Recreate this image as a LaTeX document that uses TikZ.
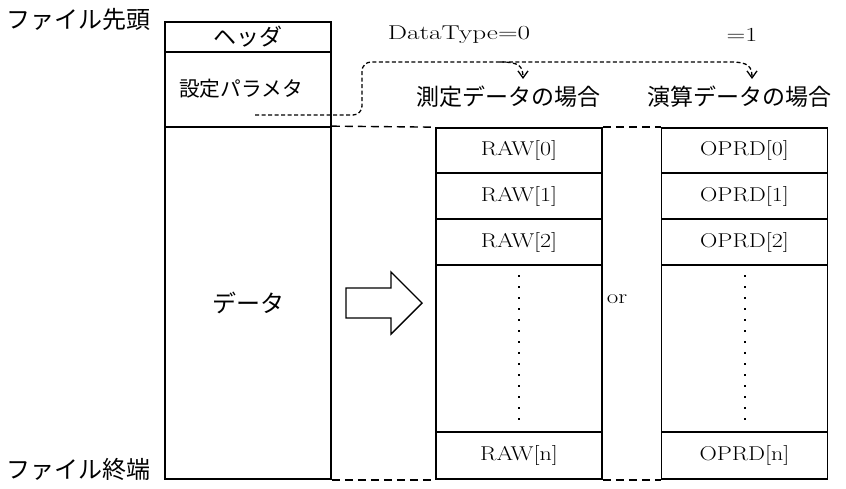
\documentclass[tikz,border=0pt]{standalone}
\usepackage{fontspec}
\usepackage{graphicx}
\newfontfamily\jp{Noto Sans CJK JP}
\usetikzlibrary{arrows.meta,backgrounds}
\newcommand{\widetxt}[2]{\scalebox{#1}[1]{#2}}
\begin{document}
\begin{tikzpicture}[x=1pt,y=-1pt,
  cell/.style={draw,line width=1.7pt,minimum width=166pt,inner sep=0pt,font=\fontsize{20}{24}\selectfont},
  jpt/.style={font=\jp\fontsize{20}{24}\selectfont,inner sep=0pt},
  lat/.style={font=\fontsize{20}{24}\selectfont,inner sep=0pt},
  bound/.style={dash pattern=on 8pt off 5pt,line width=1.4pt},
  conn/.style={dash pattern=on 4pt off 2.5pt,line width=1.3pt},
  tipv/.style={-{Straight Barb[length=7pt,width=10pt,line width=1.3pt]}}]
\useasboundingbox (0,0) rectangle (846,488);
% left file box
\node[cell,minimum height=30pt,font=\jp\fontsize{23}{26}\selectfont] (hdr) at (248,37) {ヘッダ};
\node[cell,minimum height=75pt] (param) at (248,89.5) {};
\node[jpt,font=\jp\fontsize{20.7}{24}\selectfont] (paramt) at (241,89) {設定パラメタ};
\node[cell,minimum height=352pt,font=\jp\fontsize{24}{28}\selectfont] (data) at (248,303) {データ};
\node[jpt,font=\jp\fontsize{24}{28}\selectfont] (head) at (78,19) {ファイル先頭};
\node[jpt,font=\jp\fontsize{24}{28}\selectfont] (tail) at (78,469) {ファイル終端};
% RAW column
\node[cell,minimum height=45pt] (r0) at (519,150.5) {\widetxt{1.2}{RAW[0]}};
\node[cell,minimum height=46pt] (r1) at (519,196) {\widetxt{1.2}{RAW[1]}};
\node[cell,minimum height=46pt] (r2) at (519,242) {\widetxt{1.2}{RAW[2]}};
\node[cell,minimum height=167pt] (rd) at (519,348.5) {};
\node[cell,minimum height=47pt] (rn) at (519,455.5) {\widetxt{1.2}{RAW[n]}};
% OPRD column
\node[cell,minimum height=45pt] (o0) at (744.5,150.5) {\widetxt{1.2}{OPRD[0]}};
\node[cell,minimum height=46pt] (o1) at (744.5,196) {\widetxt{1.2}{OPRD[1]}};
\node[cell,minimum height=46pt] (o2) at (744.5,242) {\widetxt{1.2}{OPRD[2]}};
\node[cell,minimum height=167pt] (od) at (744.5,348.5) {};
\node[cell,minimum height=47pt] (on) at (744.5,455.5) {\widetxt{1.2}{OPRD[n]}};
% dots
\foreach \yy in {275,286,...,425} {
  \fill (518,\yy) rectangle (520,\yy+2);
  \fill (743.5,\yy) rectangle (745.5,\yy+2);
}
% boundary dashed lines, behind the boxes
\begin{pgfonlayer}{background}
\draw[bound] (data.north east) -- (r0.north west);
\draw[bound] (r0.north east) -- (o0.north west);
\draw[bound] (data.south east) -- (rn.south west);
\draw[bound] (rn.south east) -- (on.south west);
\end{pgfonlayer}
% block arrow
\draw[line width=1.4pt,fill=white] (346,288) -- (391,288) -- (391,272) -- (422,303) -- (391,334) -- (391,318) -- (346,318) -- cycle;
\node[lat] (or) at (617,299) {\widetxt{1.25}{or}};
% labels
\node[lat] (dt0) at (459,35) {\widetxt{1.36}{DataType=0}};
\node[lat] (dt1) at (742,35) {\widetxt{1.3}{=1}};
\node[jpt,font=\jp\fontsize{23}{27}\selectfont] (meas) at (508,97) {測定データの場合};
\node[jpt,font=\jp\fontsize{23}{27}\selectfont] (calc) at (739,97) {演算データの場合};
\coordinate (src) at (255,115);
\coordinate (t0) at (523,79);
\coordinate (t1) at (752,79);
\draw[conn,rounded corners=9pt] (src) -- (362,115) -- (362,62) -- (730,62);
\draw[conn,tipv] (730,62) .. controls (748,62) and (752,66) .. (t1);
\draw[conn,tipv] (500,62) .. controls (519,62) and (523,66) .. (t0);
\end{tikzpicture}
\end{document}
